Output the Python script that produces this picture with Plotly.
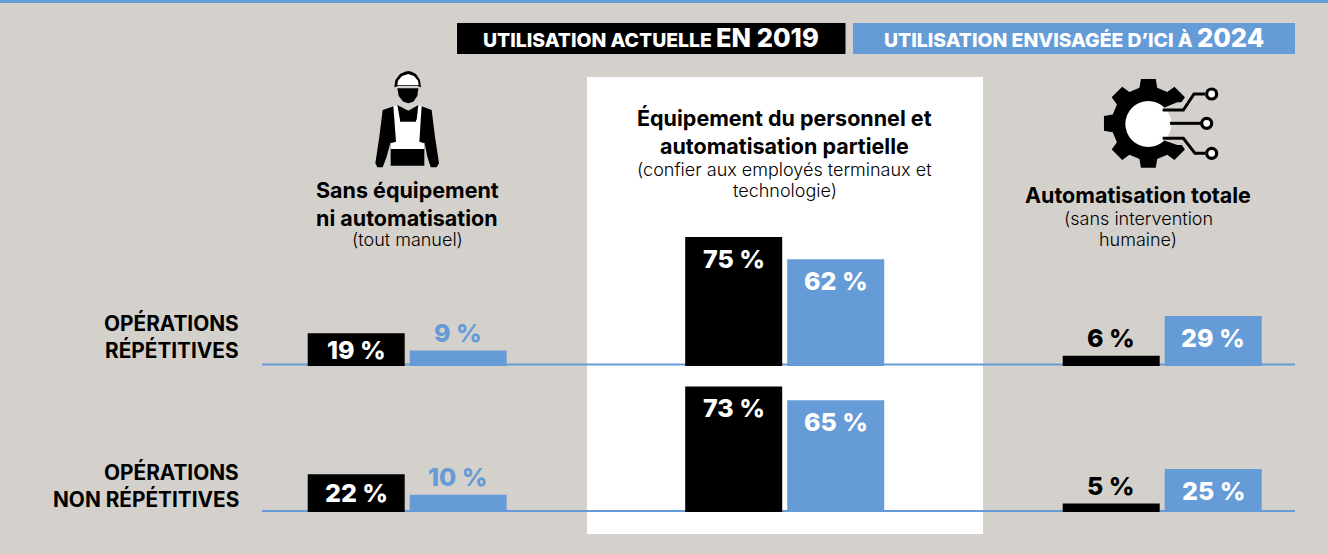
import math
import plotly.graph_objects as go

W, H = 1328, 554
BG, BLUE, BLACK, WHITE = "#D4D1CC", "#659BD6", "#000000", "#FFFFFF"
FONT = "Inter"

categories = ["Sans équipement", "Équipement du personnel", "Automatisation totale"]
rep_2019 = [19, 75, 6]
rep_2024 = [9, 62, 29]
nonrep_2019 = [22, 73, 5]
nonrep_2024 = [10, 65, 25]
name_2019 = "Utilisation actuelle en 2019"
name_2024 = "Utilisation envisagée d'ici à 2024"

PX_PER_PCT = 1.72
GROUP_STEP = 377.5
GROUP0 = 407.2
BASE1, BASE2 = 366, 512
LINE1, LINE2 = 364.5, 511


def fx(p):
    return p / W


def fy(p):
    return 1 - p / H


def path(points, close=True):
    d = " ".join(("M" if i == 0 else "L") + f"{fx(a):.5f},{fy(b):.5f}" for i, (a, b) in enumerate(points))
    return d + (" Z" if close else "")


def poly(points, color):
    return dict(type="path", xref="paper", yref="paper", path=path(points), fillcolor=color, line=dict(width=0), layer="above")


def stroke(points, color, w):
    return dict(type="path", xref="paper", yref="paper", path=path(points, False), line=dict(color=color, width=w), layer="above")


def circle(cx, cy, r, fill, lc=None, lw=0):
    return dict(type="circle", xref="paper", yref="paper", x0=fx(cx - r), x1=fx(cx + r), y0=fy(cy + r), y1=fy(cy - r),
                fillcolor=fill, line=dict(color=lc or fill, width=lw), layer="above")


def rect(x0, y0, x1, y1, color, layer="above"):
    return dict(type="rect", xref="paper", yref="paper", x0=fx(x0), x1=fx(x1), y0=fy(y1), y1=fy(y0),
                fillcolor=color, line=dict(width=0), layer=layer)


def text(px, py, s, size, color=BLACK, bold=False, anchor="center"):
    return dict(xref="paper", yref="paper", x=fx(px), y=fy(py), text=s, showarrow=False, xanchor=anchor, yanchor="middle",
                font=dict(family=FONT, size=size, color=color, weight=700 if bold else 300))


# ---------- bars ----------
fig = go.Figure()
for vals, name, col, ya in [
    (rep_2019, name_2019, BLACK, "y"), (rep_2024, name_2024, BLUE, "y"),
    (nonrep_2019, name_2019, BLACK, "y2"), (nonrep_2024, name_2024, BLUE, "y2"),
]:
    fig.add_bar(x=categories, y=vals, name=name, marker=dict(color=col, line=dict(width=0)), yaxis=ya,
                offsetgroup=col, showlegend=False, hovertemplate="%{x}: %{y} %<extra></extra>")

# ---------- value labels ----------
ann = []
for vals, ya, off in [(rep_2019, "y", -51), (rep_2024, "y", 51), (nonrep_2019, "y2", -51), (nonrep_2024, "y2", 51)]:
    for c, v in zip(categories, vals):
        h = v * PX_PER_PCT
        inside = h > 25
        shift = -22 if h > 40 else (-h / 2 if inside else 17.5)
        color = WHITE if inside else (BLACK if off < 0 else BLUE)
        ann.append(dict(x=c, y=v, xref="x", yref=ya, xshift=off, yshift=shift, text=f"{v} %", showarrow=False,
                        xanchor="center", yanchor="middle", font=dict(family=FONT, size=25, color=color, weight=800)))

# ---------- texts ----------
ann += [
    dict(xref="paper", yref="paper", x=fx(650.5), y=fy(37), showarrow=False, xanchor="center", yanchor="middle",
         text="UTILISATION ACTUELLE <span style='font-size:25.5px'>EN 2019</span>",
         font=dict(family=FONT, size=19.4, color=WHITE, weight=800)),
    dict(xref="paper", yref="paper", x=fx(1073.5), y=fy(37), showarrow=False, xanchor="center", yanchor="middle",
         text="UTILISATION ENVISAGÉE D’ICI À <span style='font-size:25.5px'>2024</span>",
         font=dict(family=FONT, size=19.4, color=WHITE, weight=800)),
    text(407, 190, "Sans équipement", 21.5, bold=True),
    text(407, 218, "ni automatisation", 21.5, bold=True),
    text(407, 240, "(tout manuel)", 18),
    text(784.5, 118, "Équipement du personnel et", 21.5, bold=True),
    text(784.5, 146, "automatisation partielle", 21.5, bold=True),
    text(784.5, 169, "(confier aux employés terminaux et", 18),
    text(784.5, 190, "technologie)", 18),
    text(1138, 195, "Automatisation totale", 21.5, bold=True),
    text(1138, 218, "(sans intervention", 18),
    text(1138, 240, "humaine)", 18),
    text(240.5, 323, "OPÉRATIONS", 20.8, bold=True, anchor="right"),
    text(240.5, 350, "RÉPÉTITIVES", 20.8, bold=True, anchor="right"),
    text(240.5, 472, "OPÉRATIONS", 20.8, bold=True, anchor="right"),
    text(240.5, 499, "NON RÉPÉTITIVES", 20.8, bold=True, anchor="right"),
]

# ---------- decoration ----------
shapes = [
    rect(0, 0, W, 3, BLUE),
    rect(457, 23, 845.5, 54, BLACK),
    rect(853, 23, 1295, 54, BLUE),
    rect(587, 77, 983, 534, WHITE, layer="below"),
]
for base in (LINE1, LINE2):
    shapes.append(dict(type="line", xref="paper", yref="paper", x0=fx(262), x1=fx(1295), y0=fy(base), y1=fy(base),
                       line=dict(color=BLUE, width=2), layer="below"))


# worker icon (drawn in zoomed coordinates)
def wk(pts):
    return [(340 + a / 3, 60 + b / 3) for a, b in pts]


shapes += [
    poly(wk([(128, 150), (172, 135), (205, 152), (235, 135), (275, 150), (285, 230), (297, 310), (290, 322), (272, 322),
             (262, 290), (253, 245), (253, 317), (152, 317), (152, 245), (140, 290), (128, 322), (112, 322), (106, 310),
             (118, 230)]), BLACK),
    poly(wk([(160, 137), (172, 135), (180, 180), (205, 152), (230, 180), (235, 135), (245, 137), (238, 245), (253, 250),
             (253, 267), (152, 267), (152, 250), (168, 245)]), WHITE),
    poly(wk([(180, 155), (205, 152), (230, 155), (228, 185), (180, 185)]), BLACK),
    poly(wk([(172, 85), (235, 85), (232, 108), (220, 125), (205, 130), (190, 125), (176, 108)]), BLACK),
    poly(wk([(163, 82), (166, 60), (180, 42), (195, 35), (205, 33), (215, 35), (228, 42), (240, 60), (243, 82), (232, 78),
             (175, 78)]), BLACK),
    poly(wk([(172, 76), (174, 62), (186, 48), (205, 42), (222, 48), (234, 62), (236, 76)]), WHITE),
]


# gear icon (drawn in zoomed coordinates)
def gk(pts):
    return [(1090 + a / 3, 70 + b / 3) for a, b in pts]


gear = []
CX, CY, R_OUT, R_IN = 175, 160, 135, 110
for i in range(8):
    a = math.radians(i * 45 - 90)
    for da, r in [(-14, R_IN), (-9.5, R_OUT), (9.5, R_OUT), (14, R_IN)]:
        gear.append((CX + r * math.cos(a + math.radians(da)), CY + r * math.sin(a + math.radians(da))))
shapes += [
    poly(gk(gear), BLACK),
    poly(gk([(225, 112), (262, 97), (320, 97), (320, 225), (262, 225), (225, 212)]), BG),
    circle(1090 + 175 / 3, 70 + 162 / 3, 23, WHITE),
    stroke(gk([(218, 120), (280, 120), (312, 72), (345, 72)]), BLACK, 3),
    stroke(gk([(240, 160), (332, 160)]), BLACK, 3),
    stroke(gk([(218, 205), (280, 205), (315, 250), (345, 250)]), BLACK, 3),
    circle(1090 + 365 / 3, 70 + 72 / 3, 5, WHITE, BLACK, 3.2),
    circle(1090 + 350 / 3, 70 + 160 / 3, 5, WHITE, BLACK, 3.2),
    circle(1090 + 365 / 3, 70 + 250 / 3, 5, WHITE, BLACK, 3.2),
]

fig.update_layout(
    width=W, height=H, autosize=False, margin=dict(l=0, r=0, t=0, b=0, pad=0),
    paper_bgcolor=BG, plot_bgcolor="rgba(0,0,0,0)", barmode="group", bargap=0.4596, bargroupgap=0.049,
    showlegend=False, shapes=shapes, annotations=ann,
    xaxis=dict(type="category", categoryorder="array", categoryarray=categories, range=[-GROUP0 / GROUP_STEP, (W - GROUP0) / GROUP_STEP],
               visible=False, fixedrange=True),
    yaxis=dict(domain=[1 - BASE1 / H, 1], range=[0, BASE1 / PX_PER_PCT], visible=False, fixedrange=True),
    yaxis2=dict(domain=[1 - BASE2 / H, 1 - BASE1 / H], range=[0, (BASE2 - BASE1) / PX_PER_PCT], visible=False, fixedrange=True),
)
fig.write_html("out.html", config=dict(displayModeBar=False), post_script="document.body.style.margin='0';")
